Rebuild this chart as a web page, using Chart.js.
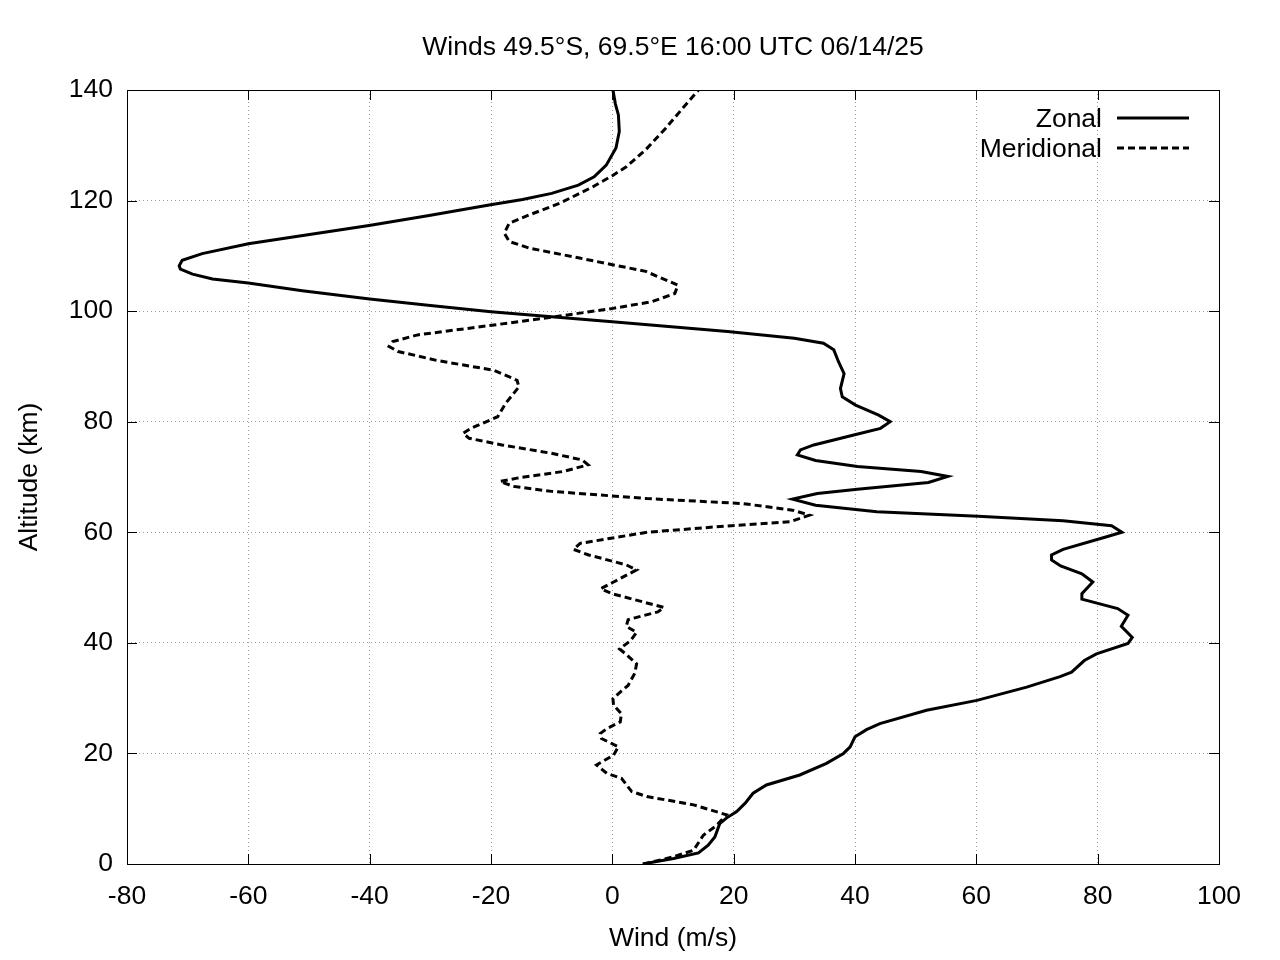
<!DOCTYPE html>
<html>
<head>
<meta charset="utf-8">
<script src="https://cdn.jsdelivr.net/npm/chart.js@4.4.1/dist/chart.umd.min.js"></script>
<style>
  html, body { margin: 0; padding: 0; background: #fff; }
  #wrap { width: 1280px; height: 960px; }
</style>
</head>
<body>
<div id="wrap"><canvas id="winds"></canvas></div>
<script>
// values, altitude in km, wind in m/s
const zonalAlt = [0.0, 1.0, 2.0, 3.4, 4.9, 7.3, 8.3, 9.5, 11.0, 12.8, 14.3, 16.1, 18.2, 20.0, 21.2, 23.0, 24.3, 25.4, 27.8, 29.6,
  32.0, 33.9, 34.7, 36.8, 38.0, 39.9, 41.0, 43.0, 45.0, 46.2, 47.9, 48.9, 51.0, 52.5, 53.9, 55.0, 55.9, 56.9, 59.1, 60.0,
  61.2, 62.1, 62.9, 63.7, 64.9, 66.0, 67.0, 67.8, 69.0, 70.1, 71.0, 71.9, 73.0, 74.0, 74.9, 75.8, 77.6, 78.8, 80.0, 81.2,
  83.0, 84.5, 86.0, 88.7, 90.8, 93.0, 94.2, 95.1, 96.3, 98.1, 99.0, 99.9, 101.0, 102.2, 103.7, 105.1, 105.8, 106.7, 107.6, 108.2,
  109.2, 110.4, 112.2, 115.5, 117.3, 118.2, 119.2, 120.2, 121.3, 122.8, 124.3, 126.4, 129.5, 132.5, 135.5, 137.5, 140.0];
const zonalWind = [5.0, 10.1, 14.2, 15.8, 16.9, 17.7, 18.8, 20.5, 21.9, 23.2, 25.4, 30.9, 35.3, 38.1, 39.2, 40.0, 41.9, 44.1, 51.8, 60.1,
  68.3, 73.8, 75.7, 77.8, 79.8, 85.0, 85.7, 83.9, 85.0, 83.3, 77.4, 77.4, 79.2, 77.4, 73.9, 72.4, 72.4, 74.3, 81.2, 84.0,
  82.3, 74.3, 60.3, 43.6, 33.5, 29.7, 33.8, 40.4, 52.1, 55.3, 50.9, 40.4, 33.5, 30.5, 31.0, 33.2, 39.8, 44.2, 45.8, 43.9,
  40.1, 37.9, 37.6, 38.2, 37.3, 36.5, 34.8, 30.0, 19.0, 0.0, -10.0, -20.0, -30.0, -40.0, -51.1, -60.0, -65.9, -69.2, -71.2, -71.4,
  -70.9, -67.6, -60.0, -40.1, -30.2, -25.5, -20.3, -14.8, -10.0, -5.6, -3.0, -1.0, 0.6, 1.15, 1.0, 0.5, 0.1];

const meridAlt = [0.0, 1.3, 2.5, 5.2, 7.0, 8.9, 10.7, 12.2, 13.1, 15.5, 16.4, 17.9, 19.7, 21.2, 22.7, 23.6, 24.5, 25.7, 27.2, 28.7,
  29.9, 31.1, 32.3, 34.5, 36.2, 37.9, 38.9, 40.4, 41.9, 43.0, 44.2, 45.6, 46.4, 47.8, 48.9, 49.8, 51.0, 53.2, 54.1, 55.9,
  56.9, 58.0, 60.0, 61.2, 61.9, 63.1, 64.0, 65.2, 66.1, 67.4, 68.3, 69.2, 69.8, 71.0, 72.2, 73.1, 74.3, 75.8, 77.0, 77.9,
  78.8, 80.9, 83.3, 86.3, 87.5, 89.3, 91.1, 92.7, 93.6, 94.5, 95.7, 97.5, 99.0, 100.5, 101.7, 103.2, 104.7, 107.2, 108.4, 109.6,
  111.4, 112.6, 114.1, 115.9, 117.4, 119.5, 122.5, 124.5, 126.1, 129.2, 133.1, 136.7, 140.0];
const meridWind = [5.1, 10.1, 13.4, 15.0, 17.2, 18.8, 13.4, 5.7, 3.2, 1.5, -0.9, -2.6, 0.2, 1.0, -1.8, -2.0, -0.9, 1.3, 1.5, 0.2,
  0.1, 1.3, 2.6, 3.7, 4.0, 2.3, 1.2, 3.0, 4.0, 2.3, 2.6, 7.5, 8.5, 3.7, -0.1, -1.9, 0.2, 4.0, 2.3, -3.9,
  -6.4, -5.3, 5.7, 19.6, 29.3, 32.5, 29.7, 21.5, 5.7, -10.0, -16.3, -18.5, -15.7, -8.1, -4.0, -5.0, -10.1, -18.2, -23.6, -24.6,
  -23.3, -18.9, -17.6, -15.4, -15.7, -19.5, -29.0, -35.3, -36.8, -36.2, -32.1, -19.5, -9.4, 0.1, 6.5, 10.3, 10.8, 5.5, 0.0, -5.4,
  -13.7, -17.0, -17.8, -17.0, -13.7, -8.7, -3.2, 0.0, 2.3, 5.5, 8.8, 11.6, 14.2];

const seriesNames = ['Zonal', 'Meridional'];
const titleText = 'Winds 49.5°S, 69.5°E 16:00 UTC 06/14/25';
const xRange = [-80, 100];
const yRange = [0, 140];

const FONT = 'Liberation Sans, Arial, sans-serif';
const FONT_SIZE = 26.5;

function toPoints(winds, alts) {
  return winds.map((w, i) => ({ x: w, y: alts[i] }));
}

// title centred over the plot box, as gnuplot does
const titlePlugin = {
  id: 'plotTitle',
  afterDraw(chart) {
    const { ctx, chartArea: a } = chart;
    ctx.save();
    ctx.font = FONT_SIZE + 'px ' + FONT;
    ctx.fillStyle = '#000';
    ctx.textAlign = 'center';
    ctx.textBaseline = 'middle';
    ctx.fillText(titleText, (a.left + a.right) / 2, a.top - 42);
    ctx.restore();
  },
};

// gnuplot-like frame with inward ticks on all four sides
const framePlugin = {
  id: 'frame',
  afterDatasetsDraw(chart) {
    const { ctx, chartArea: a, scales } = chart;
    const len = 10;
    ctx.save();
    ctx.strokeStyle = '#000';
    ctx.lineWidth = 1;
    ctx.beginPath();
    scales.x.ticks.forEach(t => {
      const px = Math.round(scales.x.getPixelForValue(t.value)) + 0.5;
      ctx.moveTo(px, a.bottom); ctx.lineTo(px, a.bottom - len);
      ctx.moveTo(px, a.top); ctx.lineTo(px, a.top + len);
    });
    scales.y.ticks.forEach(t => {
      const py = Math.round(scales.y.getPixelForValue(t.value)) + 0.5;
      ctx.moveTo(a.left, py); ctx.lineTo(a.left + len, py);
      ctx.moveTo(a.right, py); ctx.lineTo(a.right - len, py);
    });
    ctx.stroke();
    ctx.strokeRect(Math.round(a.left) + 0.5, Math.round(a.top) + 0.5,
      Math.round(a.right - a.left), Math.round(a.bottom - a.top));
    ctx.restore();
  },
};

// key in the upper right: text right-aligned, sample line after it
const keyPlugin = {
  id: 'key',
  afterDraw(chart) {
    const { ctx, chartArea: a } = chart;
    ctx.save();
    ctx.font = FONT_SIZE + 'px ' + FONT;
    ctx.textAlign = 'right';
    ctx.textBaseline = 'middle';
    chart.data.datasets.forEach((ds, i) => {
      const y = a.top + 28 + i * 30;
      ctx.fillStyle = '#000';
      ctx.fillText(ds.label, a.right - 117, y + 2);
      ctx.beginPath();
      ctx.strokeStyle = ds.borderColor;
      ctx.lineWidth = ds.borderWidth;
      ctx.setLineDash(ds.borderDash || []);
      ctx.moveTo(a.right - 102, y);
      ctx.lineTo(a.right - 30, y);
      ctx.stroke();
    });
    ctx.restore();
  },
};

new Chart(document.getElementById('winds'), {
  type: 'scatter',
  data: {
    datasets: [
      {
        label: seriesNames[0],
        data: toPoints(zonalWind, zonalAlt),
        showLine: true,
        borderColor: '#000',
        borderWidth: 3,
        pointRadius: 0,
        tension: 0,
      },
      {
        label: seriesNames[1],
        data: toPoints(meridWind, meridAlt),
        showLine: true,
        borderColor: '#000',
        borderWidth: 3,
        borderDash: [7, 4],
        pointRadius: 0,
        tension: 0,
      },
    ],
  },
  options: {
    responsive: true,
    maintainAspectRatio: false,
    animation: false,
    layout: { padding: { left: 0, right: 61, top: 90, bottom: 0 } },
    plugins: {
      legend: { display: false },
      tooltip: { enabled: false },
      title: { display: false },
    },
    scales: {
      x: {
        type: 'linear',
        min: xRange[0],
        max: xRange[1],
        ticks: { stepSize: 20, color: '#000', padding: 17, font: { family: FONT, size: FONT_SIZE } },
        grid: { color: '#a0a0a0', lineWidth: 1, drawTicks: false },
        border: { display: false, dash: [1, 3] },
        title: { display: true, text: 'Wind (m/s)', color: '#000', font: { family: FONT, size: FONT_SIZE }, padding: { top: 5, bottom: 5 } },
        afterFit(scale) { scale.height = 96; },
      },
      y: {
        type: 'linear',
        min: yRange[0],
        max: yRange[1],
        ticks: { stepSize: 20, color: '#000', padding: 14, font: { family: FONT, size: FONT_SIZE } },
        grid: { color: '#a0a0a0', lineWidth: 1, drawTicks: false },
        border: { display: false, dash: [1, 3] },
        title: { display: true, text: 'Altitude (km)', color: '#000', font: { family: FONT, size: FONT_SIZE }, padding: { top: 14, bottom: 14 } },
        afterFit(scale) { scale.width = 127; },
      },
    },
  },
  plugins: [titlePlugin, framePlugin, keyPlugin],
});
</script>
</body>
</html>
